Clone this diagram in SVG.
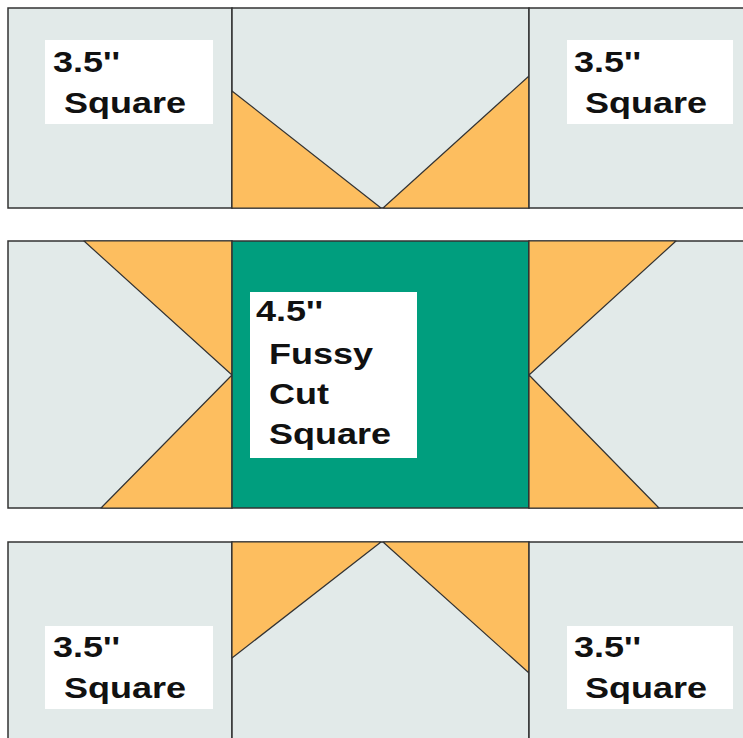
<svg xmlns="http://www.w3.org/2000/svg" width="743" height="738" viewBox="0 0 743 738">
<style>
.bg{fill:#E2EAE9;stroke:#333;stroke-width:1.5}
.or{fill:#FDBE5F;stroke:#333;stroke-width:1.2;stroke-linejoin:round}
.gr{fill:#009E7E;stroke:#333;stroke-width:1.5}
.lb{fill:#FFFFFF}
.t{font-family:"Liberation Sans",Arial,sans-serif;font-weight:bold;font-size:30px;fill:#111}
</style>
<rect width="743" height="738" fill="#FFFFFF"/>
<g id="r1-left">
<rect class="bg" x="8" y="8" width="224" height="200"/>
<rect class="lb" x="45" y="40" width="168" height="84"/>
<text class="t" transform="translate(53,72) scale(1.2,1)">3.5''</text>
<text class="t" transform="translate(64,113) scale(1.2,1)">Square</text>
</g>
<g id="r1-mid">
<rect class="bg" x="232" y="8" width="297" height="200"/>
<polygon class="or" points="232,91 381,208 232,208"/>
<polygon class="or" points="529,76 529,208 383,208"/>
</g>
<g id="r1-right">
<rect class="bg" x="529" y="8" width="220" height="200"/>
<rect class="lb" x="567" y="40" width="166" height="84"/>
<text class="t" transform="translate(574,72) scale(1.2,1)">3.5''</text>
<text class="t" transform="translate(585,113) scale(1.2,1)">Square</text>
</g>
<g id="r2-left">
<rect class="bg" x="8" y="241" width="224" height="267"/>
<polygon class="or" points="84,241 232,241 232,375"/>
<polygon class="or" points="232,375 232,508 101,508"/>
</g>
<g id="r2-center">
<rect class="gr" x="232" y="241" width="297" height="267"/>
<rect class="lb" x="250" y="292" width="167" height="166"/>
<text class="t" transform="translate(256,321) scale(1.2,1)">4.5''</text>
<text class="t" transform="translate(269,364) scale(1.2,1)">Fussy</text>
<text class="t" transform="translate(269,404) scale(1.2,1)">Cut</text>
<text class="t" transform="translate(269,444) scale(1.2,1)">Square</text>
</g>
<g id="r2-right">
<rect class="bg" x="529" y="241" width="220" height="267"/>
<polygon class="or" points="529,241 676,241 529,375"/>
<polygon class="or" points="529,375 659,508 529,508"/>
</g>
<g id="r3-left">
<rect class="bg" x="8" y="542" width="224" height="210"/>
<rect class="lb" x="45" y="626" width="168" height="83"/>
<text class="t" transform="translate(53,657) scale(1.2,1)">3.5''</text>
<text class="t" transform="translate(64,698) scale(1.2,1)">Square</text>
</g>
<g id="r3-mid">
<rect class="bg" x="232" y="542" width="297" height="210"/>
<polygon class="or" points="232,542 381,542 232,658"/>
<polygon class="or" points="383,542 529,542 529,673"/>
</g>
<g id="r3-right">
<rect class="bg" x="529" y="542" width="220" height="210"/>
<rect class="lb" x="567" y="626" width="166" height="83"/>
<text class="t" transform="translate(574,657) scale(1.2,1)">3.5''</text>
<text class="t" transform="translate(585,698) scale(1.2,1)">Square</text>
</g>
</svg>
